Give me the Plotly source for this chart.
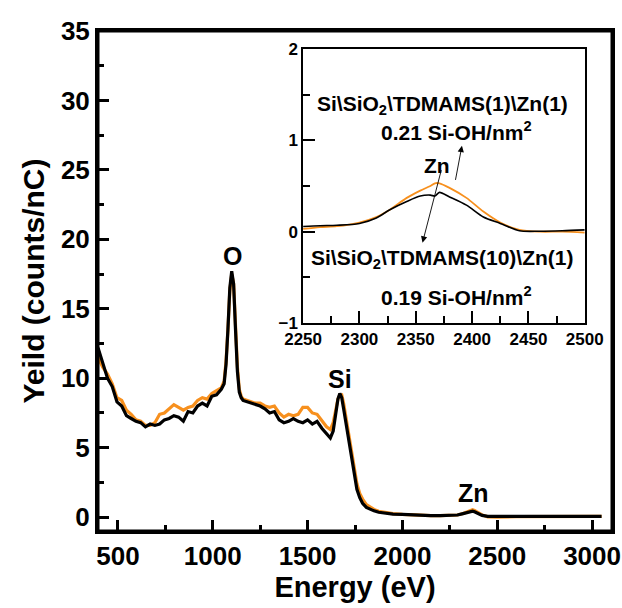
import plotly.graph_objects as go

# ---- main spectrum data ----
energy = [395, 420, 445, 470, 495, 520, 545, 570, 595, 620, 645, 670, 695, 720, 745, 770, 795, 820, 845, 870,
          895, 920, 945, 970, 995, 1020, 1045, 1060, 1070, 1080, 1090, 1100, 1110, 1120, 1130, 1140, 1150, 1160,
          1180, 1200, 1225, 1250, 1275, 1300, 1325, 1350, 1375, 1400, 1425, 1450, 1475, 1500, 1525, 1550, 1575,
          1600, 1620, 1635, 1650, 1660, 1670, 1680, 1690, 1700, 1710, 1720, 1730, 1740, 1750, 1760, 1775, 1790,
          1810, 1830, 1850, 1875, 1900, 1950, 2000, 2050, 2100, 2150, 2200, 2250, 2290, 2320, 2340, 2360, 2370,
          2380, 2400, 2420, 2450, 2500, 2600, 2700, 2800, 2900, 3000, 3050]

yield_black = [12.2, 11.0, 10.0, 9.4, 8.3, 8.0, 7.3, 7.1, 6.9, 6.8, 6.5, 6.7, 6.6, 6.7, 7.0, 7.1, 7.3, 7.2, 6.9, 7.6,
               7.5, 8.0, 8.2, 8.0, 8.7, 8.8, 9.2, 9.6, 11.0, 13.5, 16.5, 17.7, 16.8, 13.5, 10.5, 9.0, 8.6, 8.4,
               8.3, 8.2, 8.1, 8.0, 7.8, 7.5, 7.6, 7.0, 6.8, 6.9, 7.1, 6.9, 6.8, 7.0, 6.7, 6.9, 6.4,
               6.0, 5.7, 6.2, 7.5, 8.5, 8.9, 8.6, 7.8, 7.0, 6.2, 5.3, 4.4, 3.5, 2.7, 2.0, 1.4, 1.0,
               0.7, 0.55, 0.45, 0.35, 0.3, 0.22, 0.2, 0.15, 0.12, 0.1, 0.1, 0.12, 0.15, 0.25, 0.33, 0.4, 0.43,
               0.38, 0.25, 0.12, 0.05, 0.05, 0.05, 0.05, 0.05, 0.05, 0.05, 0.05]

yield_orange = [11.5, 10.8, 10.3, 9.6, 8.6, 8.4, 7.7, 7.4, 7.0, 6.9, 6.6, 6.6, 6.8, 7.4, 7.5, 7.8, 8.1, 7.9, 7.7, 7.9,
                8.0, 8.4, 8.6, 8.5, 8.9, 9.1, 9.3, 9.8, 11.2, 13.5, 16.3, 17.5, 16.8, 13.8, 10.8, 9.2, 8.7, 8.5,
                8.4, 8.3, 8.2, 8.2, 8.0, 7.9, 8.0, 7.5, 7.2, 7.4, 7.3, 7.4, 7.9, 7.9, 7.5, 7.4, 6.9,
                6.5, 6.3, 6.8, 7.8, 8.5, 8.8, 8.8, 8.2, 7.4, 6.6, 5.7, 4.8, 3.9, 3.1, 2.4, 1.7, 1.3,
                0.9, 0.7, 0.55, 0.42, 0.35, 0.25, 0.2, 0.15, 0.12, 0.1, 0.1, 0.1, 0.15, 0.26, 0.37, 0.48, 0.53,
                0.48, 0.32, 0.16, 0.02, 0.0, 0.03, 0.04, 0.05, 0.05, 0.05, 0.05]

# ---- inset (Zn region) data ----
inset_energy = [2250, 2265, 2280, 2300, 2315, 2327, 2342, 2354, 2363, 2367, 2371, 2380, 2395, 2410, 2425, 2442,
                2460, 2480, 2500]
inset_black = [0.056, 0.065, 0.07, 0.09, 0.15, 0.24, 0.33, 0.39, 0.40, 0.39, 0.43, 0.38, 0.29, 0.16, 0.09, 0.01,
               0.005, 0.01, 0.02]
inset_orange = [0.03, 0.05, 0.06, 0.10, 0.16, 0.24, 0.37, 0.45, 0.50, 0.53, 0.53, 0.48, 0.37, 0.22, 0.10, 0.02,
                0.0, 0.0, -0.01]

main_ticks = [500, 1000, 1500, 2000, 2500, 3000]
y_ticks = [0, 5, 10, 15, 20, 25, 30, 35]
inset_xticks = [2250, 2300, 2350, 2400, 2450, 2500]
inset_yticks = [-1, 0, 1, 2]

ORANGE = "#F7901E"
FONT = "Liberation Sans, Arial, sans-serif"

fig = go.Figure()
fig.add_trace(go.Scatter(x=energy, y=yield_orange, mode="lines", line=dict(color=ORANGE, width=3.2),
                         showlegend=False, xaxis="x", yaxis="y"))
fig.add_trace(go.Scatter(x=energy, y=yield_black, mode="lines", line=dict(color="black", width=3.2),
                         showlegend=False, xaxis="x", yaxis="y"))
fig.add_trace(go.Scatter(x=inset_energy, y=inset_orange, mode="lines",
                         line=dict(color=ORANGE, width=1.8, shape="spline", smoothing=0.8),
                         showlegend=False, xaxis="x2", yaxis="y2"))
fig.add_trace(go.Scatter(x=inset_energy, y=inset_black, mode="lines",
                         line=dict(color="black", width=1.6, shape="spline", smoothing=0.8),
                         showlegend=False, xaxis="x2", yaxis="y2"))

axis_common = dict(showgrid=False, zeroline=False, ticks="inside", color="black", linecolor="black",
                   showline=True, mirror=True, automargin=False)

fig.update_layout(
    width=622, height=608,
    margin=dict(l=98, r=10, t=31, b=77),
    paper_bgcolor="white", plot_bgcolor="white",
    font=dict(family=FONT, color="black"),
    xaxis=dict(**axis_common, domain=[0, 1], range=[395, 3105], tickvals=main_ticks,
               ticklen=11, tickwidth=3, linewidth=3,
               minor=dict(ticks="inside", dtick=250, tick0=0, ticklen=6, tickwidth=3),
               tickfont=dict(size=26, family=FONT, weight="bold"),
               title=dict(text="Energy (eV)", font=dict(size=29, family=FONT, weight="bold"), standoff=4)),
    yaxis=dict(**axis_common, domain=[0, 1], range=[-1, 35], tickvals=y_ticks,
               ticklen=11, tickwidth=3, linewidth=3,
               minor=dict(ticks="inside", dtick=2.5, tick0=0, ticklen=6, tickwidth=3),
               tickfont=dict(size=26, family=FONT, weight="bold"),
               title=dict(text="Yeild (counts/nC)", font=dict(size=30, family=FONT, weight="bold"), standoff=8)),
    xaxis2=dict(**axis_common, domain=[0.399, 0.947], range=[2250, 2500], anchor="y2", tickvals=inset_xticks,
                ticklen=12, tickwidth=1.5, linewidth=1.5,
                minor=dict(ticks="inside", dtick=25, tick0=2250, ticklen=7, tickwidth=1.5),
                tickfont=dict(size=17, family=FONT, weight="bold")),
    yaxis2=dict(**axis_common, domain=[0.416, 0.964], range=[-1, 2], anchor="x2", tickvals=inset_yticks,
                ticklen=12, tickwidth=1.5, linewidth=1.5,
                minor=dict(ticks="inside", dtick=0.5, tick0=0, ticklen=7, tickwidth=1.5),
                tickfont=dict(size=17, family=FONT, weight="bold")),
)

# full frame around the main plot area
fig.add_shape(type="rect", xref="x domain", yref="y domain", x0=0, x1=1, y0=0, y1=1,
              line=dict(color="black", width=3), fillcolor="rgba(0,0,0,0)", layer="above")

# main peak labels
for txt, x, y in [("O", 1102, 17.65), ("Si", 1672, 8.8), ("Zn", 2375, 0.55)]:
    fig.add_annotation(x=x, y=y, xref="x", yref="y", text=txt, showarrow=False,
                       font=dict(size=25, family=FONT, weight="bold"), yanchor="bottom")

# inset labels
inset_labels = [
    ("Si\\SiO<sub>2</sub>\\TDMAMS(1)\\Zn(1)", 2374, 1.39),
    ("0.21 Si-OH/nm<sup>2</sup>", 2386, 1.10),
    ("Zn", 2369, 0.72),
    ("Si\\SiO<sub>2</sub>\\TDMAMS(10)\\Zn(1)", 2374, -0.30),
    ("0.19 Si-OH/nm<sup>2</sup>", 2386, -0.70),
]
for txt, x, y in inset_labels:
    fig.add_annotation(x=x, y=y, xref="x2", yref="y2", text=txt, showarrow=False,
                       font=dict(size=21, family=FONT, weight="bold"), bgcolor="rgba(0,0,0,0)")

# arrows
fig.add_annotation(x=2391, y=0.94, ax=2385, ay=0.55, xref="x2", yref="y2", axref="x2", ayref="y2",
                   text="", showarrow=True, arrowhead=2, arrowsize=1.4, arrowwidth=0.9, arrowcolor="black")
fig.add_annotation(x=2356, y=-0.12, ax=2373, ay=0.69, xref="x2", yref="y2", axref="x2", ayref="y2",
                   text="", showarrow=True, arrowhead=2, arrowsize=1.4, arrowwidth=0.9, arrowcolor="black")

fig.write_html("out.html", config={"displayModeBar": False},
               post_script="document.body.style.margin='0';document.body.style.overflow='hidden';")
